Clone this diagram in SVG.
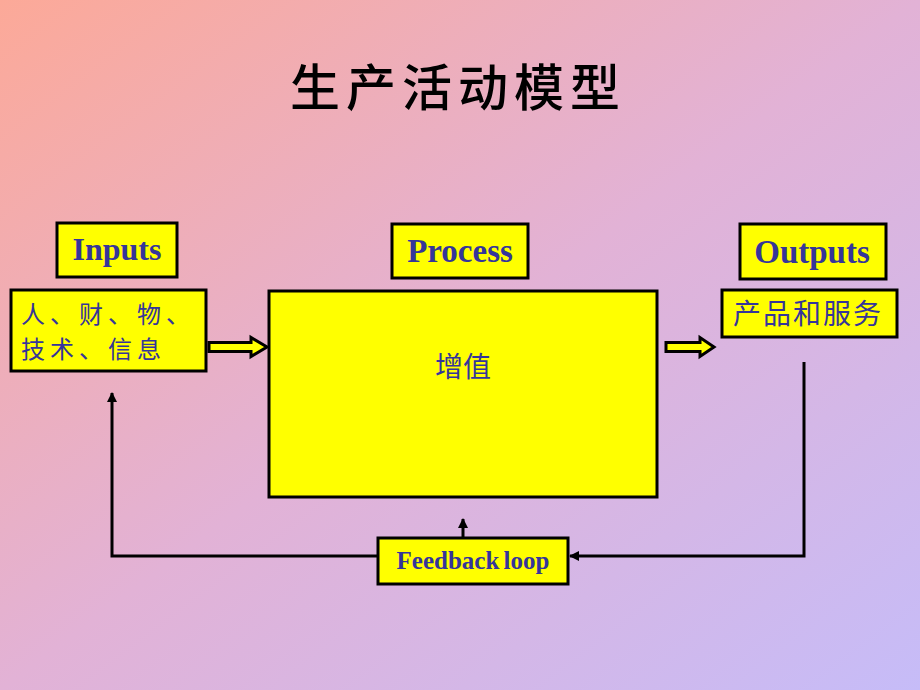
<svg xmlns="http://www.w3.org/2000/svg" width="920" height="690" viewBox="0 0 920 690">
<defs>
<linearGradient id="bg" x1="0" y1="0" x2="1" y2="1">
<stop offset="0" stop-color="#FCA998"/>
<stop offset="0.5" stop-color="#E2B2D6"/>
<stop offset="1" stop-color="#C6BCF8"/>
</linearGradient>
<marker id="ah" viewBox="0 0 10 10" refX="9" refY="5" markerWidth="10" markerHeight="10" markerUnits="userSpaceOnUse" orient="auto">
<path d="M0,0 L10,5 L0,10 z" fill="#000"/>
</marker>
<style>
.box{fill:#FFFF00;stroke:#000;stroke-width:3}
.hdr{font-family:"Liberation Serif","Times New Roman",serif;font-weight:bold;fill:#35359A;text-anchor:middle}
.cn{font-family:"Noto Sans CJK SC","Noto Sans CJK TC",serif;fill:#35359A}
.ln{fill:none;stroke:#000;stroke-width:3}
.bar{fill:#FFFF00;stroke:#000;stroke-width:3;stroke-linejoin:miter}
</style>
</defs>
<rect width="920" height="690" fill="url(#bg)"/>
<text x="458" y="106" font-family="Noto Sans CJK SC, serif" font-size="50" font-weight="500" letter-spacing="6" text-anchor="middle" fill="#000">生产活动模型</text>

<g id="inputs-label">
<rect class="box" x="57" y="223" width="120" height="54"/>
<text class="hdr" x="117" y="260" font-size="32">Inputs</text>
</g>
<g id="inputs">
<rect class="box" x="11" y="290" width="195" height="81"/>
<text class="cn" x="21" y="323" font-size="24" letter-spacing="5">人、财、物、</text>
<text class="cn" x="21" y="358" font-size="24" letter-spacing="5">技术、信息</text>
</g>
<g id="process-label">
<rect class="box" x="392" y="224" width="136" height="54"/>
<text class="hdr" x="460" y="262" font-size="33">Process</text>
</g>
<g id="outputs-label">
<rect class="box" x="740" y="224" width="146" height="55"/>
<text class="hdr" x="812" y="263" font-size="33">Outputs</text>
</g>
<g id="process">
<rect class="box" x="269" y="291" width="388" height="206"/>
<text class="cn" x="463" y="377" font-size="28" text-anchor="middle">增值</text>
</g>
<g id="outputs">
<rect class="box" x="722" y="290" width="175" height="47"/>
<text class="cn" x="808" y="324" font-size="28" letter-spacing="2" text-anchor="middle">产品和服务</text>
</g>
<g id="feedback">
<rect class="box" x="378" y="538" width="190" height="46"/>
<text class="hdr" x="473" y="569" font-size="25" word-spacing="-2">Feedback loop</text>
</g>

<g id="connectors">
<path class="bar" d="M209,342.5 L251,342.5 L251,337.5 L267,347 L251,356.5 L251,351.5 L209,351.5 Z"/>
<path class="bar" d="M666,342.5 L700,342.5 L700,337.5 L714,347 L700,356.5 L700,351.5 L666,351.5 Z"/>
<path class="ln" d="M804,362 L804,556 L570,556" marker-end="url(#ah)"/>
<path class="ln" d="M378,556 L112,556 L112,393" marker-end="url(#ah)"/>
<path class="ln" d="M463,538 L463,519" marker-end="url(#ah)"/>
</g>
</svg>
